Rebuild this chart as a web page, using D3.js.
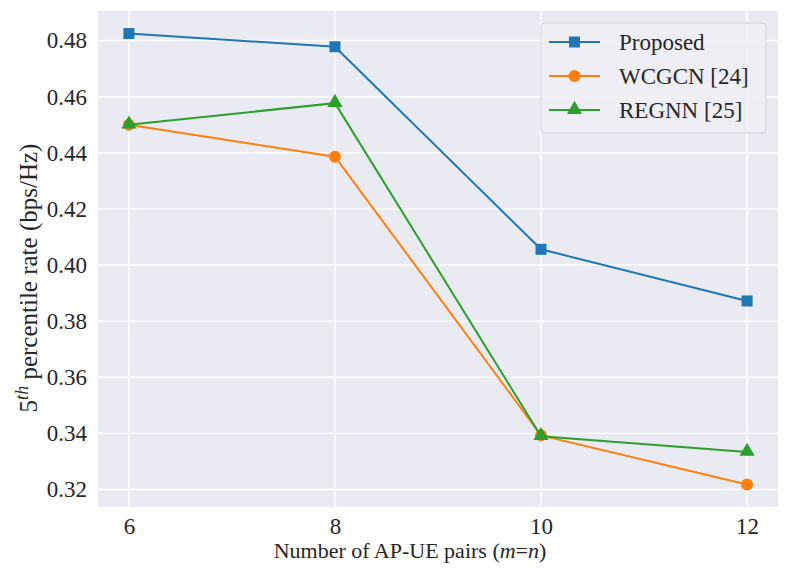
<!DOCTYPE html>
<html lang="en">
<head>
<meta charset="UTF-8">
<title>5th percentile rate</title>
<script src="https://cdn.jsdelivr.net/npm/d3@7"></script>
<style>
    body { margin: 0; background: #fff; }
</style>
</head>
<body>
<div id="container"></div>
<script>
    // Data
    var pairs = [6, 8, 10, 12];
    var proposed = [0.4825, 0.4778, 0.4056, 0.3872];
    var wcgcn = [0.4500, 0.4386, 0.3393, 0.3218];
    var regnn = [0.4500, 0.4577, 0.3390, 0.3334];
    var yTicks = [0.32, 0.34, 0.36, 0.38, 0.40, 0.42, 0.44, 0.46, 0.48];

    var series = [
        { name: "Proposed", values: proposed, color: "#1f77b4", marker: "square" },
        { name: "WCGCN [24]", values: wcgcn, color: "#ff7f0e", marker: "circle" },
        { name: "REGNN [25]", values: regnn, color: "#2ca02c", marker: "triangle" }
    ];

    var W = 789, H = 580;
    var margin = { top: 11, right: 11, bottom: 73, left: 98 };
    var width = W - margin.left - margin.right;
    var height = H - margin.top - margin.bottom;
    var fontSize = 23;
    var serif = "Liberation Serif";

    var svg = d3.select("#container").append("svg")
        .attr("width", W)
        .attr("height", H)
        .attr("font-family", serif)
        .attr("fill", "#262626");

    var g = svg.append("g")
        .attr("transform", "translate(" + margin.left + "," + margin.top + ")");

    // matplotlib style 5% margins
    var allY = proposed.concat(wcgcn, regnn);
    var yMin = d3.min(allY), yMax = d3.max(allY);
    var yPad = (yMax - yMin) * 0.05;
    var xPad = (d3.max(pairs) - d3.min(pairs)) * 0.05;

    var x = d3.scaleLinear().domain([d3.min(pairs) - xPad, d3.max(pairs) + xPad]).range([0, width]);
    var y = d3.scaleLinear().domain([yMin - yPad, yMax + yPad]).range([height, 0]);

    g.append("rect")
        .attr("width", width)
        .attr("height", height)
        .attr("fill", "#eaeaf2");

    // grid
    g.append("g").selectAll("line")
        .data(yTicks).enter().append("line")
        .attr("x1", 0).attr("x2", width)
        .attr("y1", d => y(d)).attr("y2", d => y(d))
        .attr("stroke", "#fff").attr("stroke-width", 1.4);

    g.append("g").selectAll("line")
        .data(pairs).enter().append("line")
        .attr("y1", 0).attr("y2", height)
        .attr("x1", d => x(d)).attr("x2", d => x(d))
        .attr("stroke", "#fff").attr("stroke-width", 1.4);

    // axes (labels only, seaborn darkgrid has no ticks/spines)
    var xAxis = g.append("g")
        .attr("transform", "translate(0," + height + ")")
        .call(d3.axisBottom(x).tickValues(pairs).tickSize(0).tickPadding(11).tickFormat(d3.format("d")));
    var yAxis = g.append("g")
        .call(d3.axisLeft(y).tickValues(yTicks).tickSize(0).tickPadding(11).tickFormat(d3.format(".2f")));
    [xAxis, yAxis].forEach(function (a) {
        a.attr("font-family", serif).attr("font-size", fontSize);
        a.select(".domain").remove();
        a.selectAll("text")
            .attr("font-family", serif)
            .attr("font-size", fontSize)
            .attr("fill", "#262626");
    });

    // axis labels
    var xl = svg.append("text")
        .attr("x", margin.left + width / 2 - 28)
        .attr("y", 558)
        .attr("text-anchor", "middle")
        .attr("font-size", 22);
    xl.append("tspan").text("Number of AP-UE pairs (");
    xl.append("tspan").attr("font-style", "italic").text("m");
    xl.append("tspan").text("=");
    xl.append("tspan").attr("font-style", "italic").text("n");
    xl.append("tspan").text(")");

    var yl = svg.append("text")
        .attr("transform", "translate(37,278) rotate(-90)")
        .attr("text-anchor", "middle")
        .attr("font-size", 25);
    yl.append("tspan").text("5");
    yl.append("tspan").attr("font-style", "italic").attr("font-size", 18).attr("dy", -9).text("th");
    yl.append("tspan").attr("dy", 9).text(" percentile rate (bps/Hz)");

    // markers
    function drawMarker(sel, type, color) {
        if (type === "square") {
            sel.append("rect").attr("x", -5.5).attr("y", -5.5).attr("width", 11).attr("height", 11).attr("fill", color);
        } else if (type === "circle") {
            sel.append("circle").attr("r", 6).attr("fill", color);
        } else {
            sel.append("path").attr("d", d3.symbol().type(d3.symbolTriangle).size(100)()).attr("transform", "translate(0,-0.5)").attr("fill", color);
        }
    }

    var line = d3.line().x((d, i) => x(pairs[i])).y(d => y(d));

    series.forEach(function (s) {
        g.append("path")
            .datum(s.values)
            .attr("d", line)
            .attr("fill", "none")
            .attr("stroke", s.color)
            .attr("stroke-width", 2);
        s.values.forEach(function (v, i) {
            var m = g.append("g").attr("transform", "translate(" + x(pairs[i]) + "," + y(v) + ")");
            drawMarker(m, s.marker, s.color);
        });
    });

    // legend
    var legend = svg.append("g").attr("transform", "translate(541,23)");
    legend.append("rect")
        .attr("width", 225).attr("height", 110)
        .attr("rx", 4)
        .attr("fill", "#eeeef4").attr("fill-opacity", 0.9)
        .attr("stroke", "#d0d0d6").attr("stroke-width", 1);

    series.forEach(function (s, i) {
        var row = legend.append("g").attr("transform", "translate(0," + (19 + i * 34) + ")");
        row.append("line").attr("x1", 8).attr("x2", 59).attr("stroke", s.color).attr("stroke-width", 2);
        var m = row.append("g").attr("transform", "translate(33.5,0)");
        drawMarker(m, s.marker, s.color);
        row.append("text").attr("x", 78).attr("y", 7.5).attr("font-size", fontSize).text(s.name);
    });
</script>
</body>
</html>
